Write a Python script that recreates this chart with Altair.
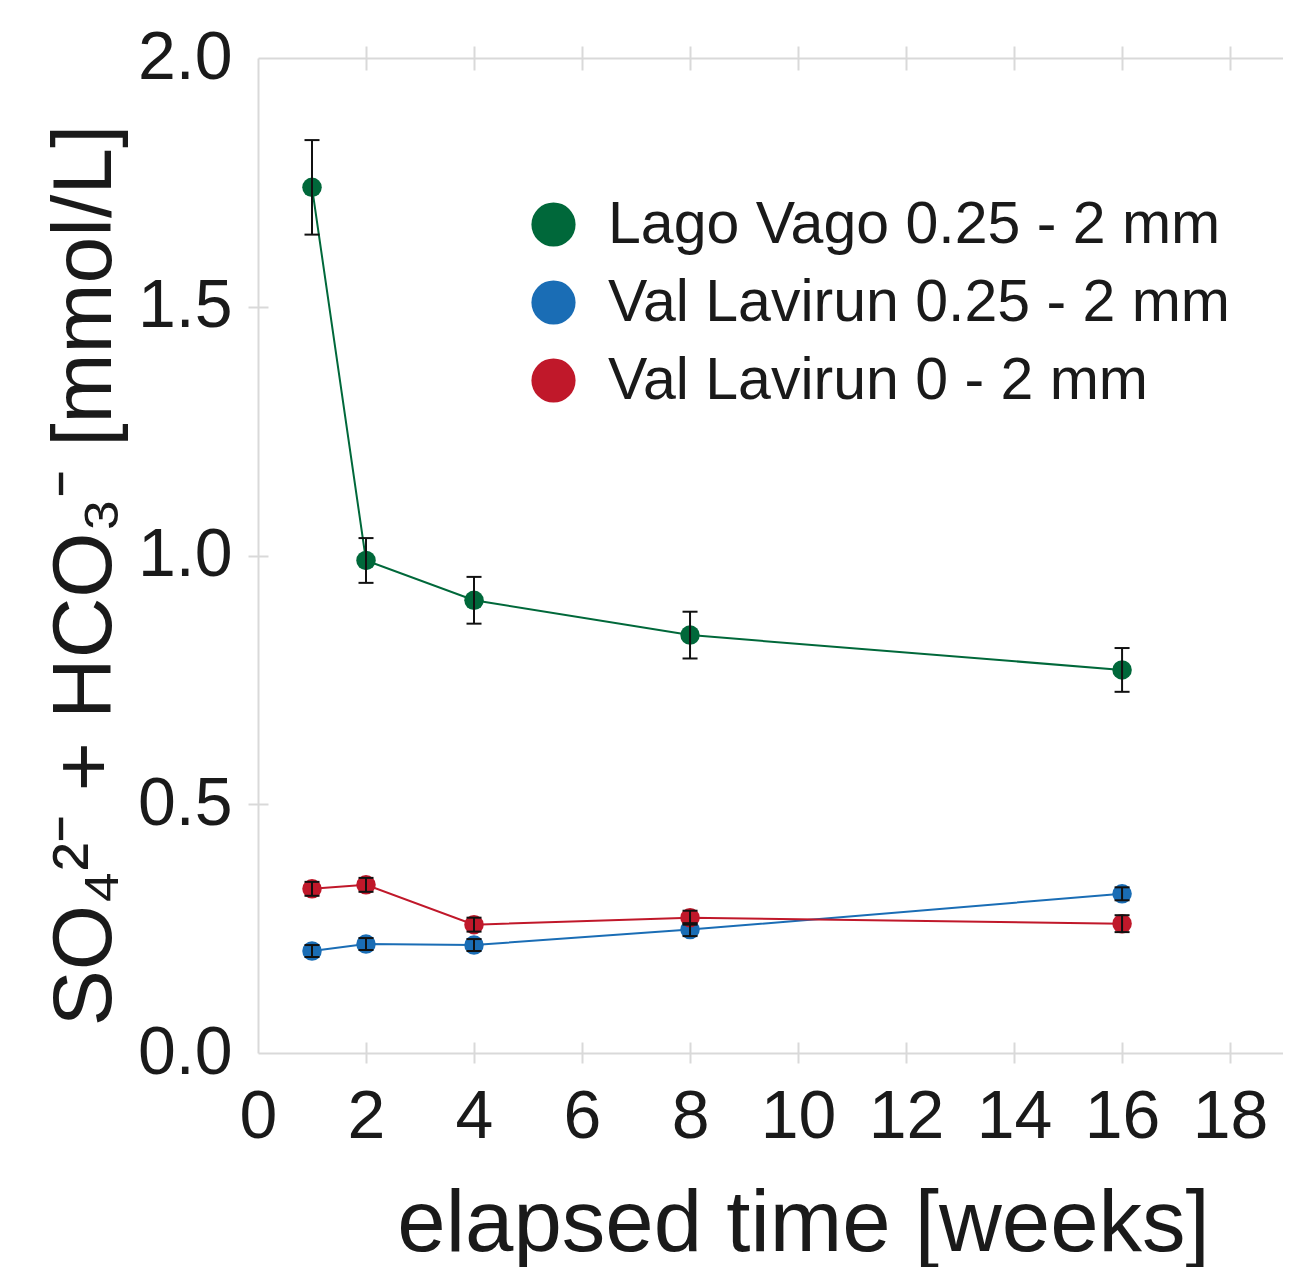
import altair as alt
import pandas as pd

# ---- data ----
weeks = [1, 2, 4, 8, 16]
series_names = ["Lago Vago 0.25 - 2 mm", "Val Lavirun 0.25 - 2 mm", "Val Lavirun 0 - 2 mm"]
lago_mean = [1.74, 0.99, 0.91, 0.84, 0.77]
lago_err = [0.095, 0.045, 0.047, 0.047, 0.044]
vl025_mean = [0.205, 0.219, 0.217, 0.248, 0.320]
vl025_err = [0.012, 0.012, 0.012, 0.013, 0.013]
vl0_mean = [0.330, 0.338, 0.258, 0.272, 0.260]
vl0_err = [0.014, 0.014, 0.014, 0.014, 0.017]
colors = ["#00683a", "#1a6db5", "#c0182a"]

x_ticks = [0, 2, 4, 6, 8, 10, 12, 14, 16, 18]
y_ticks = [0, 0.5, 1.0, 1.5, 2.0]

rows = []
for name, means, errs in zip(series_names, [lago_mean, vl025_mean, vl0_mean],
                             [lago_err, vl025_err, vl0_err]):
    for w, m, e in zip(weeks, means, errs):
        rows.append({"series": name, "weeks": w, "mean": m, "lo": m - e, "hi": m + e})
df = pd.DataFrame(rows)

FONT = "Liberation Sans"
GRAY = "#d9d9d9"
TXT = "#1a1a1a"

xscale = alt.Scale(domain=[0, 18.98], nice=False, zero=False)
yscale = alt.Scale(domain=[0, 2], nice=False, zero=False)

x_main = alt.Axis(
    orient="bottom", values=x_ticks, format="d", grid=False,
    labelFontSize=68, labelFont=FONT, labelColor=TXT, labelPadding=20,
    labelFlush=False, labelOverlap=False,
    tickSize=10, tickWidth=2, tickColor=GRAY,
    tickOpacity={"condition": {"test": "datum.value == 0", "value": 0}, "value": 1},
    domainColor=GRAY, domainWidth=2,
    title="elapsed time [weeks]", titleFontSize=87, titleFont=FONT,
    titleFontWeight="normal", titleColor=TXT, titleX=545, titleY=197,
    titleAlign="center", titleBaseline="alphabetic", titleAngle=0,
)
x_inner = alt.Axis(
    orient="bottom", values=x_ticks[1:], offset=-11, tickSize=11, tickWidth=2,
    tickColor=GRAY, domain=False, labels=False, grid=False, title=None,
)
x_top = alt.Axis(
    orient="top", values=x_ticks[1:], tickSize=12, tickWidth=2, tickColor=GRAY,
    domain=True, domainColor=GRAY, domainWidth=2, labels=False, grid=False, title=None,
)
x_top_inner = alt.Axis(
    orient="top", values=x_ticks[1:], offset=-12, tickSize=12, tickWidth=2,
    tickColor=GRAY, domain=False, labels=False, grid=False, title=None,
)
y_main = alt.Axis(
    orient="left", values=y_ticks, format=".1f", grid=False,
    labelFontSize=68, labelFont=FONT, labelColor=TXT, labelPadding=16,
    labelFlush=False, labelOverlap=False,
    tickSize=10, tickWidth=2, tickColor=GRAY,
    tickOpacity={"condition": {"test": "datum.value == 0 || datum.value == 2", "value": 0}, "value": 1},
    domainColor=GRAY, domainWidth=2,
    title="SO₄²⁻ + HCO₃⁻ [mmol/L]", titleFontSize=84, titleFont=FONT,
    titleFontWeight="normal", titleColor=TXT, titleX=-148, titleY=517,
    titleAngle=270, titleAlign="center", titleBaseline="alphabetic",
)
y_inner = alt.Axis(
    orient="left", values=[0.5, 1.0, 1.5], offset=-10, tickSize=10, tickWidth=2,
    tickColor=GRAY, domain=False, labels=False, grid=False, title=None,
)

color_scale = alt.Scale(domain=series_names, range=colors)

base = alt.Chart(df)

# one connecting line per series (fixed colours, so no extra legend is created)
line_layers = []
for i, (name, col) in enumerate(zip(series_names, colors)):
    line_layers.append(
        base.transform_filter(alt.datum.series == name)
        .mark_line(strokeWidth=2, color=col)
        .encode(
            x=alt.X("weeks:Q", scale=xscale, axis=x_main if i == 0 else None),
            y=alt.Y("mean:Q", scale=yscale, axis=y_main if i == 0 else None),
        )
    )

points = base.mark_circle(size=380, opacity=1).encode(
    x=alt.X("weeks:Q", scale=xscale, axis=x_inner),
    y=alt.Y("mean:Q", scale=yscale, axis=y_inner),
    color=alt.Color(
        "series:N", scale=color_scale,
        legend=alt.Legend(
            orient="none", legendX=266, legendY=137, title=None,
            labelFontSize=59, labelFont=FONT, labelColor=TXT, labelLimit=1000,
            symbolType="circle", symbolSize=1950, labelOffset=25, rowPadding=18,
        ),
    ),
)

rules = base.mark_rule(color="#111111", strokeWidth=2).encode(
    x=alt.X("weeks:Q", scale=xscale, axis=x_top),
    y=alt.Y("lo:Q", scale=yscale, axis=None),
    y2="hi:Q",
)

caps_lo = base.mark_tick(orient="horizontal", size=15, thickness=2, color="#111111", opacity=1).encode(
    x=alt.X("weeks:Q", scale=xscale, axis=x_top_inner),
    y=alt.Y("lo:Q", scale=yscale, axis=None),
)
caps_hi = base.mark_tick(orient="horizontal", size=15, thickness=2, color="#111111", opacity=1).encode(
    x=alt.X("weeks:Q", scale=xscale, axis=None),
    y=alt.Y("hi:Q", scale=yscale, axis=None),
)

chart = (
    alt.layer(*line_layers, points, rules, caps_lo, caps_hi)
    .resolve_axis(x="independent", y="independent")
    .properties(
        width=1025, height=995,
        autosize=alt.AutoSizeParams(type="none"),
        padding={"left": 250, "top": 50, "right": 0, "bottom": 216},
        background="white",
    )
    .configure_view(strokeWidth=0)
)

chart.save("out.html", embed_options={"renderer": "svg", "actions": False})
